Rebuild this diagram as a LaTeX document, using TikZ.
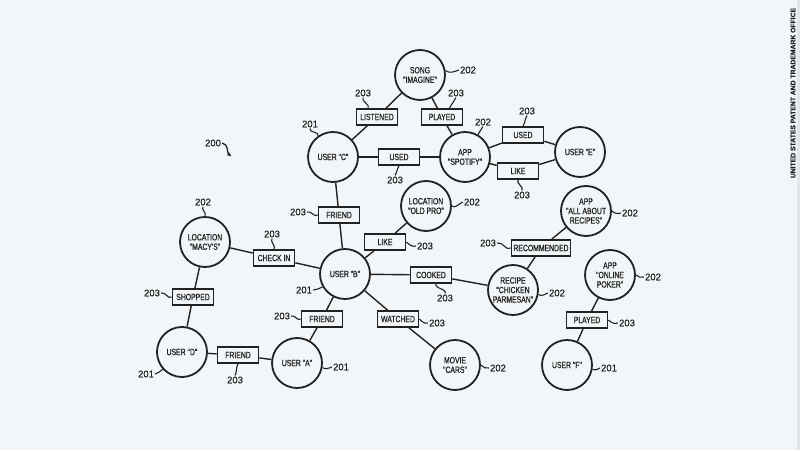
\documentclass[tikz,border=0pt]{standalone}
\usepackage{fontspec}
\setmainfont{Liberation Sans}
\newfontfamily\patfont[FakeStretch=0.76,FakeBold=0.8]{Liberation Sans}
\newfontfamily\numfont[FakeBold=0.6]{Liberation Sans}
\usetikzlibrary{arrows.meta}
\definecolor{paper}{RGB}{243,246,248}
\definecolor{ink}{RGB}{34,34,34}
\definecolor{rim}{RGB}{226,230,233}

\begin{document}
\begin{tikzpicture}[
  x=1pt,y=1pt,
  font=\patfont,
  thing/.style={circle, draw=ink, line width=1.8pt, minimum size=50pt, inner sep=0pt,
    align=center, text=ink, font=\patfont\fontsize{9}{9.5}\selectfont},
  verb/.style={rectangle, draw=ink, line width=1.6pt, minimum width=41pt, minimum height=16pt,
    inner sep=2pt, text=ink, font=\patfont\fontsize{9}{9.5}\selectfont},
  refnum/.style={text=ink, inner sep=1pt, font=\numfont\fontsize{9.5}{10}\selectfont},
  conn/.style={draw=ink, line width=1.4pt},
  leader/.style={draw=ink, line width=1.1pt}
]
\fill[paper] (0,0) rectangle (800,450);
\fill[rim] (797,0) rectangle (800,450);
\path[use as bounding box] (0,0) rectangle (800,450);

% Entities: users (201) and things (202)
\node[thing] (song)       at (420,375) {SONG\\"IMAGINE"};
\node[thing] (userc)      at (333,293) {USER "C"};
\node[thing] (spotify)    at (465,293) {APP\\"SPOTIFY"};
\node[thing] (usere)      at (580,298) {USER "E"};
\node[thing] (oldpro)     at (426,244) {LOCATION\\"OLD PRO"};
\node[thing] (userb)      at (345,176) {USER "B"};
\node[thing] (macys)      at (205,208) {LOCATION\\"MACY'S"};
\node[thing] (userd)      at (182,98)  {USER "D"};
\node[thing] (usera)      at (297,87)  {USER "A"};
\node[thing] (movie)      at (455,85)  {MOVIE\\"CARS"};
\node[thing] (recipe)     at (513,160) {RECIPE\\"CHICKEN\\PARMESAN"};
\node[thing] (allrecipes) at (586,239) {APP\\"ALL ABOUT\\RECIPES"};
\node[thing] (poker)      at (610,175) {APP\\"ONLINE\\POKER"};
\node[thing] (userf)      at (567,85)  {USER "F"};

% Relations (203)
\node[verb] (listened)    at (377,333) {LISTENED};
\node[verb] (playedsong)  at (442,333) {PLAYED};
\node[verb] (usedc)       at (399,293) {USED};
\node[verb] (usede)       at (523,315) {USED};
\node[verb] (likee)       at (518,279) {LIKE};
\node[verb] (friendcb)    at (339,235) {FRIEND};
\node[verb] (likeold)     at (385,208) {LIKE};
\node[verb] (checkin)     at (274,192) {CHECK IN};
\node[verb] (cooked)      at (431,175) {COOKED};
\node[verb] (shopped)     at (193,153) {SHOPPED};
\node[verb] (friendba)    at (322,131) {FRIEND};
\node[verb] (watched)     at (398,131) {WATCHED};
\node[verb] (friendda)    at (238,95)  {FRIEND};
\node[verb] (recommended) at (541,202) {RECOMMENDED};
\node[verb] (playedpoker) at (587,130) {PLAYED};

\foreach \a/\b in {song/listened, listened/userc, song/playedsong, playedsong/spotify,
    userc/usedc, usedc/spotify, spotify/usede, usede/usere, spotify/likee, likee/usere,
    userc/friendcb, friendcb/userb, userb/likeold, likeold/oldpro, macys/checkin,
    checkin/userb, userb/cooked, cooked/recipe, macys/shopped, shopped/userd,
    userb/friendba, friendba/usera, userb/watched, watched/movie, userd/friendda,
    friendda/usera, recipe/recommended, recommended/allrecipes, poker/playedpoker,
    playedpoker/userf}
  \draw[conn] (\a) -- (\b);

% Reference numerals
\node[refnum] (lsong)        at (468,380) {202};
\node[refnum] (llistened)    at (363,357) {203};
\node[refnum] (lplayedsong)  at (456,357) {203};
\node[refnum] (luserc)       at (310,326) {201};
\node[refnum] (lspotify)     at (483,328) {202};
\node[refnum] (lusedc)       at (395,270) {203};
\node[refnum] (lusede)       at (527,339) {203};
\node[refnum] (llikee)       at (522,255) {203};
\node[refnum] (loldpro)      at (472,248) {202};
\node[refnum] (llikeold)     at (425,204) {203};
\node[refnum] (lfriendcb)    at (298,238) {203};
\node[refnum] (lmacys)       at (203,248) {202};
\node[refnum] (lcheckin)     at (272,216) {203};
\node[refnum] (lshopped)     at (152,157) {203};
\node[refnum] (luserb)       at (304,160) {201};
\node[refnum] (lcooked)      at (445,152) {203};
\node[refnum] (lfriendba)    at (282,134) {203};
\node[refnum] (lwatched)     at (437,127) {203};
\node[refnum] (luserd)       at (146,76)  {201};
\node[refnum] (lfriendda)    at (235,70)  {203};
\node[refnum] (lusera)       at (341,83)  {201};
\node[refnum] (lmovie)       at (498,82)  {202};
\node[refnum] (lrecommended) at (488,207) {203};
\node[refnum] (lallrecipes)  at (630,237) {202};
\node[refnum] (lrecipe)      at (557,157) {202};
\node[refnum] (lpoker)       at (653,173) {202};
\node[refnum] (lplayedpoker) at (627,127) {203};
\node[refnum] (luserf)       at (609,82)  {201};
\node[refnum] (lgraph)       at (213,307) {200};
\coordinate (agraph) at (232,293);

% Leader lines
\draw[leader] (song.10) to[out=-40,in=200] (lsong.west);
\draw[leader] (llistened.south) to[out=-120,in=60] (listened.135);
\draw[leader] (lplayedsong.south) to[out=-120,in=60] (playedsong.50);
\draw[leader] (luserc.south) to[out=-120,in=60] (userc.125);
\draw[leader] (lspotify.south) to[out=-120,in=60] (spotify.60);
\draw[leader] (lusedc.north) to[out=60,in=-120] (usedc.south);
\draw[leader] (lusede.south) to[out=-120,in=60] (usede.north);
\draw[leader] (llikee.north) to[out=60,in=-120] (likee.south);
\draw[leader] (oldpro.east) to[out=-40,in=200] (loldpro.west);
\draw[leader] (likeold.east) to[out=-40,in=200] (llikeold.west);
\draw[leader] (lfriendcb.east) to[out=20,in=220] (friendcb.west);
\draw[leader] (lmacys.south) to[out=-120,in=60] (macys.north);
\draw[leader] (lcheckin.south) to[out=-120,in=60] (checkin.north);
\draw[leader] (lshopped.east) to[out=20,in=220] (shopped.west);
\draw[leader] (luserb.east) to[out=20,in=220] (userb.210);
\draw[leader] (lcooked.north) to[out=60,in=-120] (cooked.-60);
\draw[leader] (lfriendba.east) to[out=20,in=220] (friendba.west);
\draw[leader] (watched.east) to[out=-40,in=200] (lwatched.west);
\draw[leader] (luserd.east) to[out=20,in=220] (userd.222);
\draw[leader] (lfriendda.north) to[out=60,in=-120] (friendda.south);
\draw[leader] (usera.-10) to[out=-40,in=200] (lusera.west);
\draw[leader] (movie.east) to[out=-40,in=200] (lmovie.west);
\draw[leader] (lrecommended.east) to[out=20,in=220] (recommended.west);
\draw[leader] (allrecipes.east) to[out=-40,in=200] (lallrecipes.west);
\draw[leader] (recipe.-10) to[out=-40,in=200] (lrecipe.west);
\draw[leader] (poker.east) to[out=-40,in=200] (lpoker.west);
\draw[leader] (playedpoker.east) to[out=-40,in=200] (lplayedpoker.west);
\draw[leader] (userf.-10) to[out=-40,in=200] (luserf.west);
\draw[leader, line width=1.3pt, -{Latex[length=5pt,width=3.5pt]}] (lgraph.east) to[out=-10,in=140] (agraph);

\node[rotate=90, text=ink, font=\numfont\bfseries\fontsize{6.8}{7}\selectfont] (office) at (793,357)
  {UNITED STATES PATENT AND TRADEMARK OFFICE};

\end{tikzpicture}
\end{document}
